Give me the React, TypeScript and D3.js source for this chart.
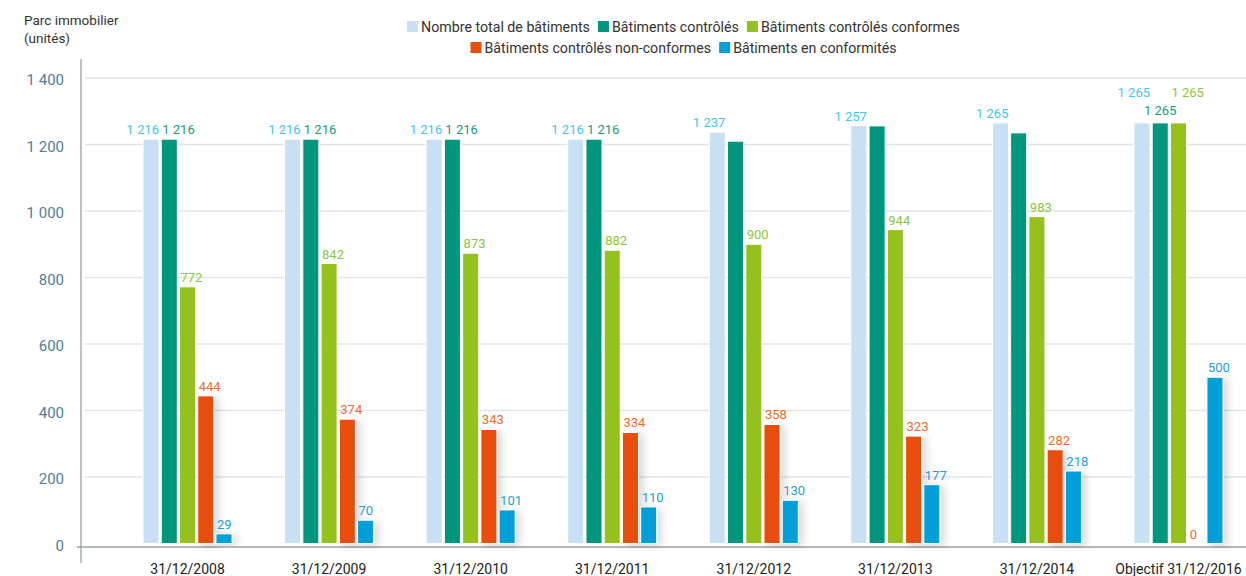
import React, { useEffect, useRef } from "react";
import * as d3 from "d3";

const categories = [
  "31/12/2008",
  "31/12/2009",
  "31/12/2010",
  "31/12/2011",
  "31/12/2012",
  "31/12/2013",
  "31/12/2014",
  "Objectif 31/12/2016",
];
const totalBatiments = [1216, 1216, 1216, 1216, 1237, 1257, 1265, 1265];
const controles = [1216, 1216, 1216, 1216, 1210, 1256, 1235, 1265];
const conformes = [772, 842, 873, 882, 900, 944, 983, 1265];
const nonConformes = [444, 374, 343, 334, 358, 323, 282, 0];
const enConformite = [29, 70, 101, 110, 130, 177, 218, 500];

const seriesNames = [
  "Nombre total de bâtiments",
  "Bâtiments contrôlés",
  "Bâtiments contrôlés conformes",
  "Bâtiments contrôlés non-conformes",
  "Bâtiments en conformités",
];
// which groups show the value label, per series
const showLabel = [
  [true, true, true, true, true, true, true, true],
  [true, true, true, true, false, false, false, true],
  [true, true, true, true, true, true, true, true],
  [true, true, true, true, true, true, true, true],
  [true, true, true, true, true, true, true, true],
];
const yTicks = [0, 200, 400, 600, 800, 1000, 1200, 1400];
const legendRows = [[0, 1, 2], [3, 4]];

const barColors = ["#c9dff4", "#00967d", "#95c11f", "#e84e0f", "#009fda"];
const labelColors = ["#45c4ef", "#1a9a80", "#8cc63f", "#f06b2a", "#1d9fd6"];

const fmt = (n: number) =>
  n >= 1000 ? `${Math.floor(n / 1000)} ${String(n % 1000).padStart(3, "0")}` : String(n);

export default function App() {
  const ref = useRef<SVGSVGElement>(null);

  useEffect(() => {
    const svg = d3.select(ref.current);
    svg.selectAll("*").remove();
    const font = "Roboto, 'Noto Sans', sans-serif";

    const data = [totalBatiments, controles, conformes, nonConformes, enConformite];

    const y = d3.scaleLinear().domain([0, 1400]).range([543.5, 78]);
    const x0 = d3.scaleBand<string>().domain(categories).range([143, 1223]).paddingInner(0.371).paddingOuter(0);
    const x1 = d3
      .scaleBand<number>()
      .domain(d3.range(seriesNames.length))
      .range([0, x0.bandwidth()])
      .paddingInner(0.12)
      .paddingOuter(0);

    const defs = svg.append("defs");
    const f = defs.append("filter").attr("id", "shadow").attr("x", "-50%").attr("y", "-20%").attr("width", "250%").attr("height", "140%");
    f.append("feDropShadow").attr("dx", 4).attr("dy", 2).attr("stdDeviation", 4).attr("flood-color", "#000").attr("flood-opacity", 0.16);

    // gridlines
    svg
      .append("g")
      .selectAll("line")
      .data(yTicks.filter((t) => t > 0))
      .join("line")
      .attr("x1", 85)
      .attr("x2", 1246)
      .attr("y1", (d) => y(d))
      .attr("y2", (d) => y(d))
      .attr("stroke", "#dfe4e9")
      .attr("stroke-width", 1.5);

    // y tick labels
    svg
      .append("g")
      .selectAll("text")
      .data(yTicks)
      .join("text")
      .attr("x", 64)
      .attr("y", (d) => y(d) + 7)
      .attr("text-anchor", "end")
      .attr("font-family", font)
      .attr("font-size", 15)
      .attr("fill", "#4f7f98")
      .text((d) => fmt(d));

    // axes lines
    svg.append("line").attr("x1", 81).attr("x2", 81).attr("y1", 59).attr("y2", 563).attr("stroke", "#a7acb0").attr("stroke-width", 1.5);
    svg.append("line").attr("x1", 77).attr("x2", 1246).attr("y1", 547).attr("y2", 547).attr("stroke", "#9aa0a5").attr("stroke-width", 1.5);

    // y title
    const title = svg.append("text").attr("font-family", font).attr("font-size", 13.5).attr("fill", "#333");
    title.append("tspan").attr("x", 24).attr("y", 25).text("Parc immobilier");
    title.append("tspan").attr("x", 24).attr("y", 43).text("(unités)");

    // bars
    const groups = svg
      .append("g")
      .selectAll("g")
      .data(categories)
      .join("g")
      .attr("transform", (d) => `translate(${x0(d)},0)`);

    groups.each(function (_c, gi) {
      const g = d3.select(this);
      data.forEach((vals, si) => {
        const v = vals[gi];
        const bx = x1(si)!;
        const bw = x1.bandwidth();
        if (v > 0) {
          g.append("rect")
            .attr("x", bx)
            .attr("y", y(v))
            .attr("width", bw)
            .attr("height", y(0) - y(v))
            .attr("fill", barColors[si])
            .attr("stroke", "#fff")
            .attr("stroke-width", 1)
            .attr("filter", si >= 3 ? "url(#shadow)" : null);
        }
        if (showLabel[si][gi]) {
          const isLast = gi === categories.length - 1;
          let anchor = si === 0 ? "end" : "start";
          let lx = si === 0 ? bx + bw : bx + 1;
          let lift = 5;
          if (isLast && si === 1) {
            anchor = "middle";
            lx = bx + bw / 2;
            lift = 8;
          } else if (isLast && (si === 0 || si === 2)) {
            lift = 26;
          }
          g.append("text")
            .attr("x", lx)
            .attr("y", y(v) - lift)
            .attr("text-anchor", anchor)
            .attr("font-family", font)
            .attr("font-size", 13)
            .attr("fill", labelColors[si])
            .text(fmt(v));
        }
      });
    });

    // x labels
    svg
      .append("g")
      .selectAll("text")
      .data(categories)
      .join("text")
      .attr("x", (d) => x0(d)! + x0.bandwidth() / 2)
      .attr("y", 574)
      .attr("text-anchor", "middle")
      .attr("font-family", font)
      .attr("font-size", 14)
      .attr("fill", "#222")
      .text((d) => d);

    // legend
    const legend = svg.append("g");
    const rowY = [27, 48];
    legendRows.forEach((row, ri) => {
      const rg = legend.append("g");
      let cx = 0;
      row.forEach((si) => {
        rg.append("rect").attr("x", cx).attr("y", rowY[ri] - 6).attr("width", 11).attr("height", 11).attr("fill", barColors[si]);
        const t = rg
          .append("text")
          .attr("x", cx + 14)
          .attr("y", rowY[ri] + 5)
          .attr("font-family", font)
          .attr("font-size", 14.2)
          .attr("fill", "#333")
          .text(seriesNames[si]);
        const w = (t.node() as SVGTextElement).getComputedTextLength();
        cx += 14 + w + 8;
      });
      const total = cx - 8;
      rg.attr("transform", `translate(${683.5 - total / 2},0)`);
    });
  }, []);

  return (
    <svg
      ref={ref}
      width={1246}
      height={576}
      style={{ display: "block", position: "absolute", left: 0, top: 0, background: "#fff" }}
    />
  );
}
